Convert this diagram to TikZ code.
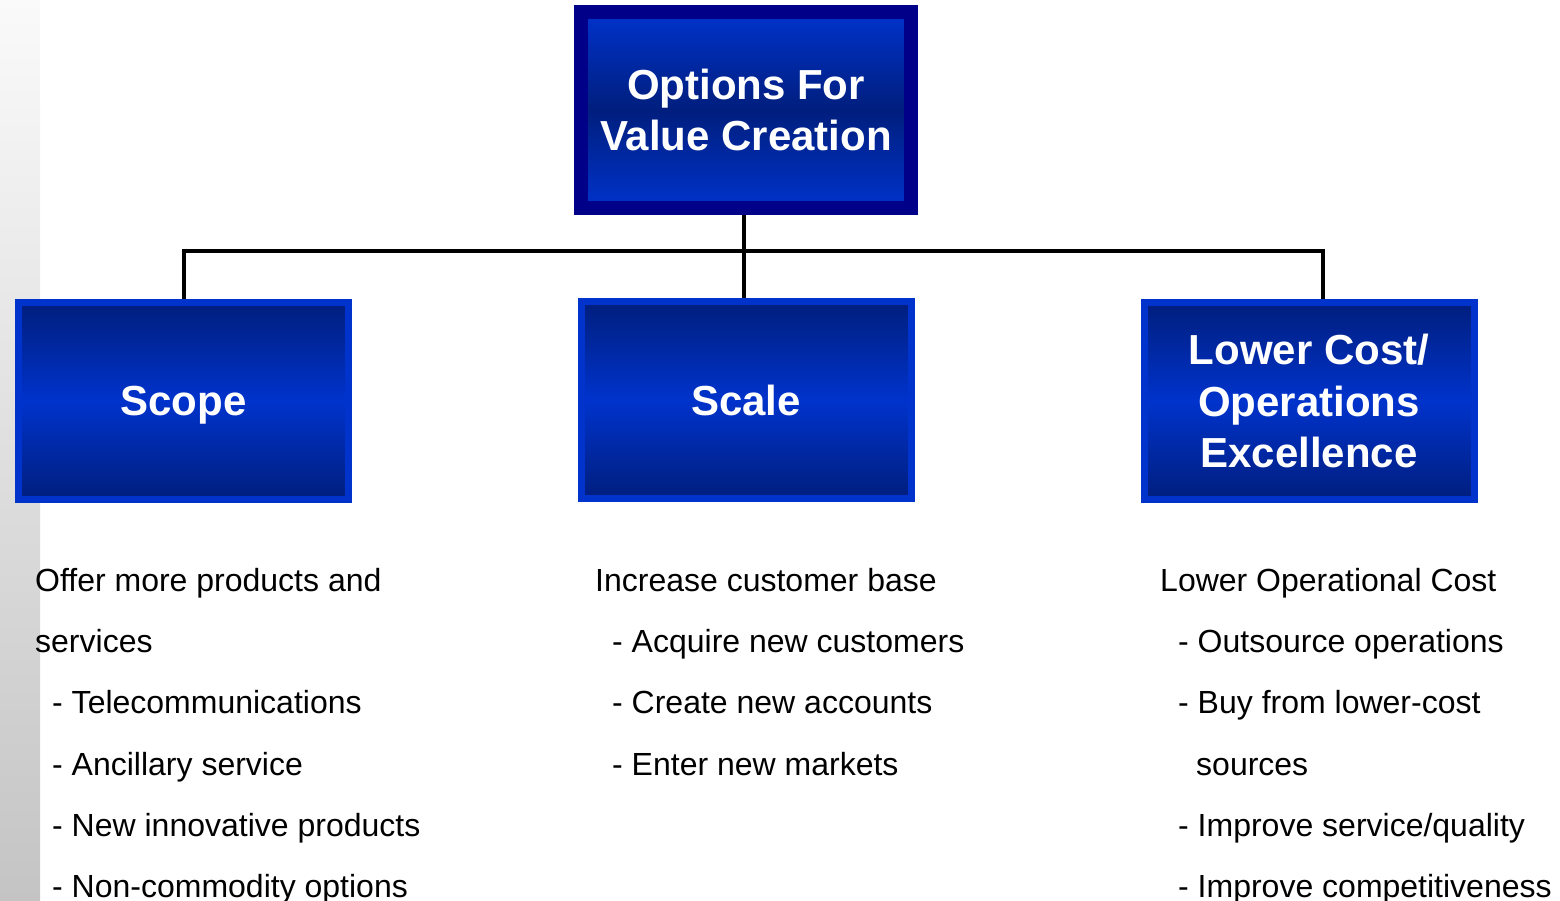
\documentclass[tikz,border=0pt]{standalone}
\usepackage{fontspec}
\setmainfont{Liberation Sans}
\usetikzlibrary{backgrounds}
\definecolor{bright}{RGB}{0,51,204}
\definecolor{darkb}{RGB}{0,30,125}
\definecolor{navy}{RGB}{0,0,136}
\definecolor{stripTop}{RGB}{250,250,250}
\definecolor{stripBot}{RGB}{196,196,196}
\tikzset{
  topbox/.style={draw=navy, line width=14pt, minimum width=330pt, minimum height=196pt,
    top color=bright, bottom color=bright, middle color=darkb, text=white,
    font=\fontsize{42}{51}\selectfont\bfseries, align=center, inner sep=0pt},
  lowbox/.style={draw=bright, line width=7pt, minimum width=330pt, minimum height=197pt,
    top color=darkb, bottom color=darkb, middle color=bright, text=white,
    font=\fontsize{42}{51.5}\selectfont\bfseries, align=center, inner sep=0pt},
  conn/.style={line width=4pt, black},
  body/.style={anchor=base west, inner sep=0pt, font=\fontsize{32}{38}\selectfont, text=black}
}
\begin{document}
\begin{tikzpicture}[x=1pt,y=-1pt]
\useasboundingbox (0,0) rectangle (1560,901);
\shade[top color=stripTop, bottom color=stripBot] (0,0) rectangle (40,901);
\coordinate (bus) at (744,251);
\coordinate (rj) at (1323,302);
% boxes
\node[topbox] (top) at (746,110) {Options For\\Value Creation};
\node[lowbox, text depth=0pt] (scope) at (183.5,401) {Scope};
\node[lowbox] (scale) at (746,400) {Scale};
\node[lowbox] (lower) at (1309,401) {Lower Cost/\\Operations\\Excellence};
% connectors under the boxes
\begin{scope}[on background layer]
\draw[conn] (bus |- top.south) -- (bus |- scale.north);
\draw[conn] (scope.north) |- (bus) -| (rj);
\end{scope}
% left column
\node[body] (s1) at (35,591) {Offer more products and};
\node[body] (s2) at (35,652) {services};
\node[body] (s3) at (52,713) {- Telecommunications};
\node[body] (s4) at (52,775) {- Ancillary service};
\node[body] (s5) at (52,836) {- New innovative products};
\node[body] (s6) at (52,897) {- Non-commodity options};
% middle column
\node[body] (m1) at (595,591) {Increase customer base};
\node[body] (m2) at (612,652) {- Acquire new customers};
\node[body] (m3) at (612,713) {- Create new accounts};
\node[body] (m4) at (612,775) {- Enter new markets};
% right column
\node[body] (r1) at (1160,591) {Lower Operational Cost};
\node[body] (r2) at (1178,652) {- Outsource operations};
\node[body] (r3) at (1178,713) {- Buy from lower-cost};
\node[body] (r4) at (1196,775) {sources};
\node[body] (r5) at (1178,836) {- Improve service/quality};
\node[body] (r6) at (1178,897) {- Improve competitiveness};
\end{tikzpicture}
\end{document}
